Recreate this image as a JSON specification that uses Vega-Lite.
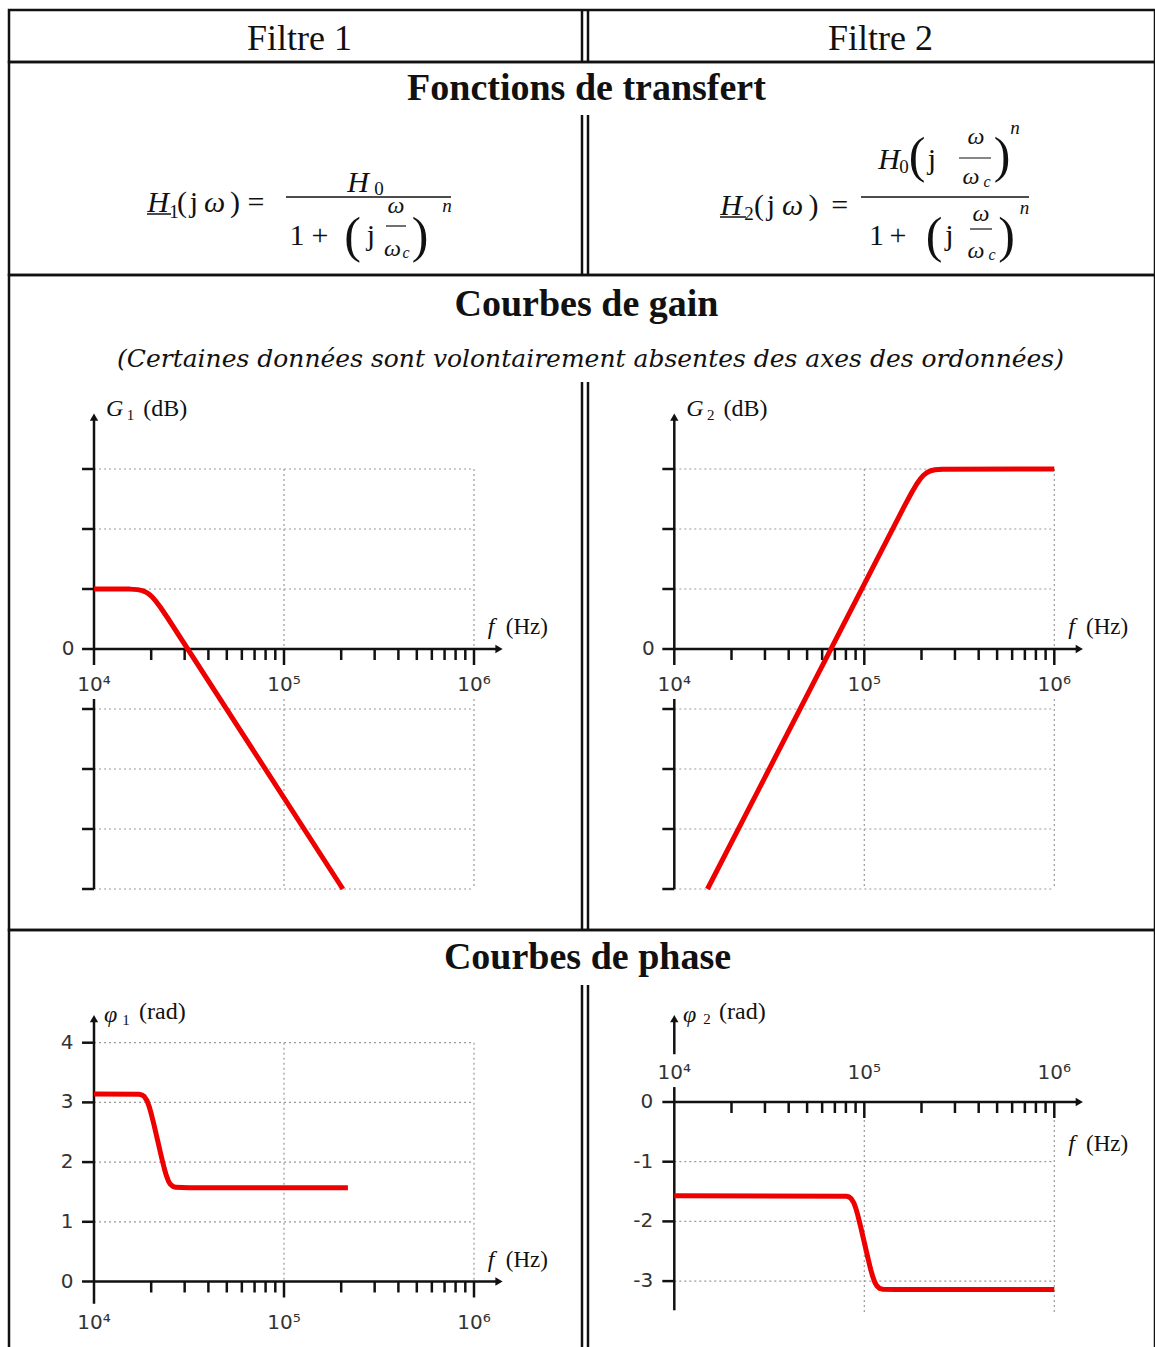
{
  "$schema": "https://vega.github.io/schema/vega-lite/v6.json",
  "background": "white",
  "padding": {"left": 7, "top": 7, "right": 0, "bottom": 0},
  "spacing": 0,
  "bounds": "flush",
  "config": {
    "view": {"stroke": "#111", "strokeWidth": 2.5},
    "axis": {"disable": true}
  },
  "datasets": {
    "gain1": [
      {"f": 10000, "G": 20},
      {"f": 15470, "G": 19.96},
      {"f": 16963, "G": 19.79},
      {"f": 17968, "G": 19.46},
      {"f": 18816, "G": 18.93},
      {"f": 19478, "G": 18.3},
      {"f": 20163, "G": 17.46},
      {"f": 21112, "G": 16.03},
      {"f": 22363, "G": 13.91},
      {"f": 24520, "G": 10.16},
      {"f": 204170, "G": -80}
    ],
    "gain2": [
      {"f": 14950, "G": -80},
      {"f": 162550, "G": 47.62},
      {"f": 178240, "G": 52.34},
      {"f": 188800, "G": 55.0},
      {"f": 197700, "G": 56.8},
      {"f": 204640, "G": 57.86},
      {"f": 211830, "G": 58.65},
      {"f": 221820, "G": 59.32},
      {"f": 234960, "G": 59.74},
      {"f": 257630, "G": 59.94},
      {"f": 1000000, "G": 60}
    ],
    "phase1": [
      {"f": 10000, "phi": 3.1416},
      {"f": 17378, "phi": 3.135},
      {"f": 17989, "phi": 3.121},
      {"f": 18408, "phi": 3.097},
      {"f": 19033, "phi": 3.025},
      {"f": 19498, "phi": 2.935},
      {"f": 19953, "phi": 2.825},
      {"f": 20654, "phi": 2.634},
      {"f": 21627, "phi": 2.361},
      {"f": 22646, "phi": 2.086},
      {"f": 23442, "phi": 1.893},
      {"f": 23988, "phi": 1.782},
      {"f": 24604, "phi": 1.688},
      {"f": 25119, "phi": 1.636},
      {"f": 26002, "phi": 1.592},
      {"f": 26915, "phi": 1.577},
      {"f": 31623, "phi": 1.5708},
      {"f": 217000, "phi": 1.5708}
    ],
    "phase2": [
      {"f": 10000, "phi": -1.5708},
      {"f": 80353, "phi": -1.5774},
      {"f": 83176, "phi": -1.5914},
      {"f": 85114, "phi": -1.6154},
      {"f": 88000, "phi": -1.6874},
      {"f": 90157, "phi": -1.7774},
      {"f": 92257, "phi": -1.8874},
      {"f": 95499, "phi": -2.0784},
      {"f": 100000, "phi": -2.3514},
      {"f": 104713, "phi": -2.6269},
      {"f": 108393, "phi": -2.8194},
      {"f": 110917, "phi": -2.9304},
      {"f": 113763, "phi": -3.0244},
      {"f": 116145, "phi": -3.0764},
      {"f": 120226, "phi": -3.1204},
      {"f": 124451, "phi": -3.1354},
      {"f": 146218, "phi": -3.1416},
      {"f": 1000000, "phi": -3.1416}
    ],
    "minorTicks": [
      {"f": 20000}, {"f": 30000}, {"f": 40000}, {"f": 50000}, {"f": 60000}, {"f": 70000}, {"f": 80000}, {"f": 90000},
      {"f": 200000}, {"f": 300000}, {"f": 400000}, {"f": 500000}, {"f": 600000}, {"f": 700000}, {"f": 800000}, {"f": 900000}
    ],
    "decades": [{"f": 100000}, {"f": 1000000}],
    "decadeLabels": [
      {"f": 10000, "label": "10⁴"},
      {"f": 100000, "label": "10⁵"},
      {"f": 1000000, "label": "10⁶"}
    ],
    "gainGrid": [{"G": 60}, {"G": 40}, {"G": 20}, {"G": -20}, {"G": -40}, {"G": -60}, {"G": -80}],
    "gainTicks": [{"G": 60}, {"G": 40}, {"G": 20}, {"G": 0}, {"G": -20}, {"G": -40}, {"G": -60}, {"G": -80}],
    "phase1Grid": [{"phi": 1}, {"phi": 2}, {"phi": 3}, {"phi": 4}],
    "phase1Ticks": [
      {"phi": 0, "label": "0"}, {"phi": 1, "label": "1"}, {"phi": 2, "label": "2"}, {"phi": 3, "label": "3"}, {"phi": 4, "label": "4"}
    ],
    "phase2Grid": [{"phi": -1}, {"phi": -2}, {"phi": -3}],
    "phase2Ticks": [
      {"phi": 0, "label": "0"}, {"phi": -1, "label": "-1"}, {"phi": -2, "label": "-2"}, {"phi": -3, "label": "-3"}
    ]
  },
  "vconcat": [
    {
      "width": 1146,
      "height": 52,
      "data": {"values": [{}]},
      "encoding": {
        "x": {"type": "quantitative", "scale": {"domain": [0, 1], "nice": false, "zero": false}},
        "y": {"type": "quantitative", "scale": {"domain": [0, 1], "nice": false, "zero": false, "reverse": true}}
      },
      "layer": [
        {"mark": {"type": "text", "text": "Filtre 1", "font": "Liberation Serif", "fontSize": 36, "align": "center", "baseline": "alphabetic", "color": "#111"},
         "encoding": {"x": {"datum": 0.2535, "type": "quantitative"}, "y": {"datum": 0.7788, "type": "quantitative"}}},
        {"mark": {"type": "text", "text": "Filtre 2", "font": "Liberation Serif", "fontSize": 36, "align": "center", "baseline": "alphabetic", "color": "#111"},
         "encoding": {"x": {"datum": 0.7605, "type": "quantitative"}, "y": {"datum": 0.7788, "type": "quantitative"}}},
        {"mark": {"type": "rule", "color": "#111", "strokeWidth": 2.5},
         "encoding": {"x": {"datum": 0.5, "type": "quantitative"}, "y": {"datum": 0, "type": "quantitative"}, "y2": {"datum": 1}}},
        {"mark": {"type": "rule", "color": "#111", "strokeWidth": 2.5},
         "encoding": {"x": {"datum": 0.50524, "type": "quantitative"}, "y": {"datum": 0, "type": "quantitative"}, "y2": {"datum": 1}}}
      ]
    },
    {
      "width": 1146,
      "height": 213,
      "data": {"values": [{}]},
      "encoding": {
        "x": {"type": "quantitative", "scale": {"domain": [0, 1], "nice": false, "zero": false}},
        "y": {"type": "quantitative", "scale": {"domain": [0, 1], "nice": false, "zero": false, "reverse": true}}
      },
      "layer": [
        {"mark": {"type": "text", "text": "Fonctions de transfert", "font": "Liberation Serif", "fontWeight": "bold", "fontSize": 38, "align": "center", "baseline": "alphabetic", "color": "#111"},
         "encoding": {"x": {"datum": 0.5039, "type": "quantitative"}, "y": {"datum": 0.1784, "type": "quantitative"}}},
        {"mark": {"type": "rule", "color": "#111", "strokeWidth": 2.5},
         "encoding": {"x": {"datum": 0.5, "type": "quantitative"}, "y": {"datum": 0.2488, "type": "quantitative"}, "y2": {"datum": 1}}},
        {"mark": {"type": "rule", "color": "#111", "strokeWidth": 2.5},
         "encoding": {"x": {"datum": 0.50524, "type": "quantitative"}, "y": {"datum": 0.2488, "type": "quantitative"}, "y2": {"datum": 1}}},

        {"mark": {"type": "text", "text": "H", "font": "Liberation Serif", "fontStyle": "italic", "fontSize": 30, "align": "center", "baseline": "middle", "color": "#111"},
         "encoding": {"x": {"datum": 0.13002, "type": "quantitative"}, "y": {"datum": 0.66197, "type": "quantitative"}}},
        {"mark": {"type": "text", "text": "1", "font": "Liberation Serif", "fontSize": 19, "align": "center", "baseline": "middle", "color": "#111"},
         "encoding": {"x": {"datum": 0.14398, "type": "quantitative"}, "y": {"datum": 0.70188, "type": "quantitative"}}},
        {"mark": {"type": "text", "text": "(", "font": "Liberation Serif", "fontSize": 30, "align": "center", "baseline": "middle", "color": "#111"},
         "encoding": {"x": {"datum": 0.15096, "type": "quantitative"}, "y": {"datum": 0.66197, "type": "quantitative"}}},
        {"mark": {"type": "text", "text": "j", "font": "Liberation Serif", "fontSize": 30, "align": "center", "baseline": "middle", "color": "#111"},
         "encoding": {"x": {"datum": 0.16143, "type": "quantitative"}, "y": {"datum": 0.66197, "type": "quantitative"}}},
        {"mark": {"type": "text", "text": "ω", "font": "Liberation Serif", "fontStyle": "italic", "fontSize": 30, "align": "center", "baseline": "middle", "color": "#111"},
         "encoding": {"x": {"datum": 0.17941, "type": "quantitative"}, "y": {"datum": 0.66197, "type": "quantitative"}}},
        {"mark": {"type": "text", "text": ")", "font": "Liberation Serif", "fontSize": 30, "align": "center", "baseline": "middle", "color": "#111"},
         "encoding": {"x": {"datum": 0.19721, "type": "quantitative"}, "y": {"datum": 0.66197, "type": "quantitative"}}},
        {"mark": {"type": "text", "text": "=", "font": "Liberation Serif", "fontSize": 30, "align": "center", "baseline": "middle", "color": "#111"},
         "encoding": {"x": {"datum": 0.21553, "type": "quantitative"}, "y": {"datum": 0.66197, "type": "quantitative"}}},
        {"mark": {"type": "rule", "color": "#111", "strokeWidth": 1.5},
         "encoding": {"x": {"datum": 0.12042, "type": "quantitative"}, "x2": {"datum": 0.14136}, "y": {"datum": 0.71362, "type": "quantitative"}}},
        {"mark": {"type": "rule", "color": "#111", "strokeWidth": 1.5},
         "encoding": {"x": {"datum": 0.24171, "type": "quantitative"}, "x2": {"datum": 0.38569}, "y": {"datum": 0.6338, "type": "quantitative"}}},
        {"mark": {"type": "text", "text": "H", "font": "Liberation Serif", "fontStyle": "italic", "fontSize": 30, "align": "center", "baseline": "middle", "color": "#111"},
         "encoding": {"x": {"datum": 0.30454, "type": "quantitative"}, "y": {"datum": 0.56808, "type": "quantitative"}}},
        {"mark": {"type": "text", "text": "0", "font": "Liberation Serif", "fontSize": 19, "align": "center", "baseline": "middle", "color": "#111"},
         "encoding": {"x": {"datum": 0.32286, "type": "quantitative"}, "y": {"datum": 0.59624, "type": "quantitative"}}},
        {"mark": {"type": "text", "text": "1", "font": "Liberation Serif", "fontSize": 30, "align": "center", "baseline": "middle", "color": "#111"},
         "encoding": {"x": {"datum": 0.25131, "type": "quantitative"}, "y": {"datum": 0.8169, "type": "quantitative"}}},
        {"mark": {"type": "text", "text": "+", "font": "Liberation Serif", "fontSize": 30, "align": "center", "baseline": "middle", "color": "#111"},
         "encoding": {"x": {"datum": 0.27138, "type": "quantitative"}, "y": {"datum": 0.8169, "type": "quantitative"}}},
        {"mark": {"type": "text", "text": "(", "font": "Liberation Serif", "fontSize": 50, "align": "center", "baseline": "middle", "color": "#111"},
         "encoding": {"x": {"datum": 0.29974, "type": "quantitative"}, "y": {"datum": 0.82042, "type": "quantitative"}}},
        {"mark": {"type": "text", "text": "j", "font": "Liberation Serif", "fontSize": 30, "align": "center", "baseline": "middle", "color": "#111"},
         "encoding": {"x": {"datum": 0.31588, "type": "quantitative"}, "y": {"datum": 0.8169, "type": "quantitative"}}},
        {"mark": {"type": "text", "text": "ω", "font": "Liberation Serif", "fontStyle": "italic", "fontSize": 24, "align": "center", "baseline": "middle", "color": "#111"},
         "encoding": {"x": {"datum": 0.3377, "type": "quantitative"}, "y": {"datum": 0.67371, "type": "quantitative"}}},
        {"mark": {"type": "rule", "color": "#111", "strokeWidth": 1.2},
         "encoding": {"x": {"datum": 0.32897, "type": "quantitative"}, "x2": {"datum": 0.34642}, "y": {"datum": 0.76995, "type": "quantitative"}}},
        {"mark": {"type": "text", "text": "ω", "font": "Liberation Serif", "fontStyle": "italic", "fontSize": 24, "align": "center", "baseline": "middle", "color": "#111"},
         "encoding": {"x": {"datum": 0.33464, "type": "quantitative"}, "y": {"datum": 0.87559, "type": "quantitative"}}},
        {"mark": {"type": "text", "text": "c", "font": "Liberation Serif", "fontStyle": "italic", "fontSize": 16, "align": "center", "baseline": "middle", "color": "#111"},
         "encoding": {"x": {"datum": 0.34642, "type": "quantitative"}, "y": {"datum": 0.89671, "type": "quantitative"}}},
        {"mark": {"type": "text", "text": ")", "font": "Liberation Serif", "fontSize": 50, "align": "center", "baseline": "middle", "color": "#111"},
         "encoding": {"x": {"datum": 0.35864, "type": "quantitative"}, "y": {"datum": 0.82042, "type": "quantitative"}}},
        {"mark": {"type": "text", "text": "n", "font": "Liberation Serif", "fontStyle": "italic", "fontSize": 19, "align": "center", "baseline": "middle", "color": "#111"},
         "encoding": {"x": {"datum": 0.3822, "type": "quantitative"}, "y": {"datum": 0.67606, "type": "quantitative"}}},

        {"mark": {"type": "text", "text": "H", "font": "Liberation Serif", "fontStyle": "italic", "fontSize": 30, "align": "center", "baseline": "middle", "color": "#111"},
         "encoding": {"x": {"datum": 0.63002, "type": "quantitative"}, "y": {"datum": 0.67606, "type": "quantitative"}}},
        {"mark": {"type": "text", "text": "2", "font": "Liberation Serif", "fontSize": 19, "align": "center", "baseline": "middle", "color": "#111"},
         "encoding": {"x": {"datum": 0.64572, "type": "quantitative"}, "y": {"datum": 0.71362, "type": "quantitative"}}},
        {"mark": {"type": "text", "text": "(", "font": "Liberation Serif", "fontSize": 30, "align": "center", "baseline": "middle", "color": "#111"},
         "encoding": {"x": {"datum": 0.65445, "type": "quantitative"}, "y": {"datum": 0.67606, "type": "quantitative"}}},
        {"mark": {"type": "text", "text": "j", "font": "Liberation Serif", "fontSize": 30, "align": "center", "baseline": "middle", "color": "#111"},
         "encoding": {"x": {"datum": 0.66492, "type": "quantitative"}, "y": {"datum": 0.67606, "type": "quantitative"}}},
        {"mark": {"type": "text", "text": "ω", "font": "Liberation Serif", "fontStyle": "italic", "fontSize": 30, "align": "center", "baseline": "middle", "color": "#111"},
         "encoding": {"x": {"datum": 0.68368, "type": "quantitative"}, "y": {"datum": 0.67606, "type": "quantitative"}}},
        {"mark": {"type": "text", "text": ")", "font": "Liberation Serif", "fontSize": 30, "align": "center", "baseline": "middle", "color": "#111"},
         "encoding": {"x": {"datum": 0.70201, "type": "quantitative"}, "y": {"datum": 0.67606, "type": "quantitative"}}},
        {"mark": {"type": "text", "text": "=", "font": "Liberation Serif", "fontSize": 30, "align": "center", "baseline": "middle", "color": "#111"},
         "encoding": {"x": {"datum": 0.72478, "type": "quantitative"}, "y": {"datum": 0.67606, "type": "quantitative"}}},
        {"mark": {"type": "rule", "color": "#111", "strokeWidth": 1.5},
         "encoding": {"x": {"datum": 0.62042, "type": "quantitative"}, "x2": {"datum": 0.64311}, "y": {"datum": 0.7277, "type": "quantitative"}}},
        {"mark": {"type": "rule", "color": "#111", "strokeWidth": 1.5},
         "encoding": {"x": {"datum": 0.74346, "type": "quantitative"}, "x2": {"datum": 0.89005}, "y": {"datum": 0.6338, "type": "quantitative"}}},
        {"mark": {"type": "text", "text": "H", "font": "Liberation Serif", "fontStyle": "italic", "fontSize": 30, "align": "center", "baseline": "middle", "color": "#111"},
         "encoding": {"x": {"datum": 0.76789, "type": "quantitative"}, "y": {"datum": 0.46009, "type": "quantitative"}}},
        {"mark": {"type": "text", "text": "0", "font": "Liberation Serif", "fontSize": 19, "align": "center", "baseline": "middle", "color": "#111"},
         "encoding": {"x": {"datum": 0.78098, "type": "quantitative"}, "y": {"datum": 0.49296, "type": "quantitative"}}},
        {"mark": {"type": "text", "text": "(", "font": "Liberation Serif", "fontSize": 50, "align": "center", "baseline": "middle", "color": "#111"},
         "encoding": {"x": {"datum": 0.79232, "type": "quantitative"}, "y": {"datum": 0.44484, "type": "quantitative"}}},
        {"mark": {"type": "text", "text": "j", "font": "Liberation Serif", "fontSize": 30, "align": "center", "baseline": "middle", "color": "#111"},
         "encoding": {"x": {"datum": 0.80541, "type": "quantitative"}, "y": {"datum": 0.46009, "type": "quantitative"}}},
        {"mark": {"type": "text", "text": "ω", "font": "Liberation Serif", "fontStyle": "italic", "fontSize": 24, "align": "center", "baseline": "middle", "color": "#111"},
         "encoding": {"x": {"datum": 0.8438, "type": "quantitative"}, "y": {"datum": 0.35446, "type": "quantitative"}}},
        {"mark": {"type": "rule", "color": "#111", "strokeWidth": 1.2},
         "encoding": {"x": {"datum": 0.82897, "type": "quantitative"}, "x2": {"datum": 0.85689}, "y": {"datum": 0.4507, "type": "quantitative"}}},
        {"mark": {"type": "text", "text": "ω", "font": "Liberation Serif", "fontStyle": "italic", "fontSize": 24, "align": "center", "baseline": "middle", "color": "#111"},
         "encoding": {"x": {"datum": 0.83944, "type": "quantitative"}, "y": {"datum": 0.54225, "type": "quantitative"}}},
        {"mark": {"type": "text", "text": "c", "font": "Liberation Serif", "fontStyle": "italic", "fontSize": 16, "align": "center", "baseline": "middle", "color": "#111"},
         "encoding": {"x": {"datum": 0.8534, "type": "quantitative"}, "y": {"datum": 0.56338, "type": "quantitative"}}},
        {"mark": {"type": "text", "text": ")", "font": "Liberation Serif", "fontSize": 50, "align": "center", "baseline": "middle", "color": "#111"},
         "encoding": {"x": {"datum": 0.86649, "type": "quantitative"}, "y": {"datum": 0.44484, "type": "quantitative"}}},
        {"mark": {"type": "text", "text": "n", "font": "Liberation Serif", "fontStyle": "italic", "fontSize": 19, "align": "center", "baseline": "middle", "color": "#111"},
         "encoding": {"x": {"datum": 0.87784, "type": "quantitative"}, "y": {"datum": 0.30845, "type": "quantitative"}}},
        {"mark": {"type": "text", "text": "1", "font": "Liberation Serif", "fontSize": 30, "align": "center", "baseline": "middle", "color": "#111"},
         "encoding": {"x": {"datum": 0.75698, "type": "quantitative"}, "y": {"datum": 0.8169, "type": "quantitative"}}},
        {"mark": {"type": "text", "text": "+", "font": "Liberation Serif", "fontSize": 30, "align": "center", "baseline": "middle", "color": "#111"},
         "encoding": {"x": {"datum": 0.77574, "type": "quantitative"}, "y": {"datum": 0.8169, "type": "quantitative"}}},
        {"mark": {"type": "text", "text": "(", "font": "Liberation Serif", "fontSize": 50, "align": "center", "baseline": "middle", "color": "#111"},
         "encoding": {"x": {"datum": 0.80716, "type": "quantitative"}, "y": {"datum": 0.82042, "type": "quantitative"}}},
        {"mark": {"type": "text", "text": "j", "font": "Liberation Serif", "fontSize": 30, "align": "center", "baseline": "middle", "color": "#111"},
         "encoding": {"x": {"datum": 0.82068, "type": "quantitative"}, "y": {"datum": 0.8169, "type": "quantitative"}}},
        {"mark": {"type": "text", "text": "ω", "font": "Liberation Serif", "fontStyle": "italic", "fontSize": 24, "align": "center", "baseline": "middle", "color": "#111"},
         "encoding": {"x": {"datum": 0.84817, "type": "quantitative"}, "y": {"datum": 0.71127, "type": "quantitative"}}},
        {"mark": {"type": "rule", "color": "#111", "strokeWidth": 1.2},
         "encoding": {"x": {"datum": 0.83857, "type": "quantitative"}, "x2": {"datum": 0.85777}, "y": {"datum": 0.78404, "type": "quantitative"}}},
        {"mark": {"type": "text", "text": "ω", "font": "Liberation Serif", "fontStyle": "italic", "fontSize": 24, "align": "center", "baseline": "middle", "color": "#111"},
         "encoding": {"x": {"datum": 0.8438, "type": "quantitative"}, "y": {"datum": 0.88498, "type": "quantitative"}}},
        {"mark": {"type": "text", "text": "c", "font": "Liberation Serif", "fontStyle": "italic", "fontSize": 16, "align": "center", "baseline": "middle", "color": "#111"},
         "encoding": {"x": {"datum": 0.85776, "type": "quantitative"}, "y": {"datum": 0.9061, "type": "quantitative"}}},
        {"mark": {"type": "text", "text": ")", "font": "Liberation Serif", "fontSize": 50, "align": "center", "baseline": "middle", "color": "#111"},
         "encoding": {"x": {"datum": 0.87042, "type": "quantitative"}, "y": {"datum": 0.82042, "type": "quantitative"}}},
        {"mark": {"type": "text", "text": "n", "font": "Liberation Serif", "fontStyle": "italic", "fontSize": 19, "align": "center", "baseline": "middle", "color": "#111"},
         "encoding": {"x": {"datum": 0.88613, "type": "quantitative"}, "y": {"datum": 0.68545, "type": "quantitative"}}}
      ]
    },
    {
      "width": 1146,
      "height": 655,
      "data": {"values": [{}]},
      "resolve": {"scale": {"x": "independent", "y": "independent"}},
      "layer": [
        {
          "encoding": {
            "x": {"type": "quantitative", "scale": {"domain": [0, 1], "nice": false, "zero": false}},
            "y": {"type": "quantitative", "scale": {"domain": [0, 1], "nice": false, "zero": false, "reverse": true}}
          },
          "layer": [
            {"mark": {"type": "text", "text": "Courbes de gain", "font": "Liberation Serif", "fontWeight": "bold", "fontSize": 38, "align": "center", "baseline": "alphabetic", "color": "#111"},
             "encoding": {"x": {"datum": 0.5039, "type": "quantitative"}, "y": {"datum": 0.0626, "type": "quantitative"}}},
            {"mark": {"type": "text", "text": "(Certaines données sont volontairement absentes des axes des ordonnées)", "font": "DejaVu Serif", "fontStyle": "italic", "fontSize": 25, "align": "center", "baseline": "alphabetic", "color": "#111"},
             "encoding": {"x": {"datum": 0.5074, "type": "quantitative"}, "y": {"datum": 0.1405, "type": "quantitative"}}},
            {"mark": {"type": "rule", "color": "#111", "strokeWidth": 2.5},
             "encoding": {"x": {"datum": 0.5, "type": "quantitative"}, "y": {"datum": 0.1634, "type": "quantitative"}, "y2": {"datum": 1}}},
            {"mark": {"type": "rule", "color": "#111", "strokeWidth": 2.5},
             "encoding": {"x": {"datum": 0.50524, "type": "quantitative"}, "y": {"datum": 0.1634, "type": "quantitative"}, "y2": {"datum": 1}}}
          ]
        },
        {
          "encoding": {
            "x": {"type": "quantitative", "scale": {"type": "log", "domain": [3569.7, 3838900000], "nice": false}},
            "y": {"type": "quantitative", "scale": {"domain": [-93.667, 124.667], "nice": false, "zero": false}}
          },
          "layer": [
            {"data": {"name": "gainGrid"}, "mark": {"type": "rule", "color": "#9a9a9a", "strokeWidth": 1.2, "strokeDash": [2, 3]},
             "encoding": {"x": {"datum": 10000, "type": "quantitative"}, "x2": {"datum": 1000000}, "y": {"field": "G", "type": "quantitative"}}},
            {"data": {"name": "decades"}, "mark": {"type": "rule", "color": "#9a9a9a", "strokeWidth": 1.2, "strokeDash": [2, 3]},
             "encoding": {"x": {"field": "f", "type": "quantitative"}, "y": {"datum": 60, "type": "quantitative"}, "y2": {"datum": 0}}},
            {"data": {"name": "decades"}, "mark": {"type": "rule", "color": "#9a9a9a", "strokeWidth": 1.2, "strokeDash": [2, 3]},
             "encoding": {"x": {"field": "f", "type": "quantitative"}, "y": {"datum": -16.67, "type": "quantitative"}, "y2": {"datum": -80}}},
            {"data": {"name": "gainTicks"}, "mark": {"type": "rule", "color": "#111", "strokeWidth": 2.5},
             "encoding": {"x": {"datum": 8650, "type": "quantitative"}, "x2": {"datum": 10000}, "y": {"field": "G", "type": "quantitative"}}},
            {"mark": {"type": "rule", "color": "#111", "strokeWidth": 2.5},
             "encoding": {"x": {"datum": 10000, "type": "quantitative"}, "y": {"datum": 77.33, "type": "quantitative"}, "y2": {"datum": -5.33}}},
            {"mark": {"type": "rule", "color": "#111", "strokeWidth": 2.5},
             "encoding": {"x": {"datum": 10000, "type": "quantitative"}, "y": {"datum": -16.67, "type": "quantitative"}, "y2": {"datum": -80}}},
            {"mark": {"type": "rule", "color": "#111", "strokeWidth": 2.5},
             "encoding": {"x": {"datum": 10000, "type": "quantitative"}, "x2": {"datum": 1354000}, "y": {"datum": 0, "type": "quantitative"}}},
            {"data": {"name": "minorTicks"}, "mark": {"type": "rule", "color": "#111", "strokeWidth": 2.5},
             "encoding": {"x": {"field": "f", "type": "quantitative"}, "y": {"datum": 0, "type": "quantitative"}, "y2": {"datum": -3.67}}},
            {"data": {"name": "decades"}, "mark": {"type": "rule", "color": "#111", "strokeWidth": 2.5},
             "encoding": {"x": {"field": "f", "type": "quantitative"}, "y": {"datum": 0, "type": "quantitative"}, "y2": {"datum": -5.33}}},
            {"mark": {"type": "point", "shape": "triangle-up", "filled": true, "size": 70, "color": "#111", "opacity": 1},
             "encoding": {"x": {"datum": 10000, "type": "quantitative"}, "y": {"datum": 77.33, "type": "quantitative"}}},
            {"mark": {"type": "point", "shape": "triangle-right", "filled": true, "size": 70, "color": "#111", "opacity": 1},
             "encoding": {"x": {"datum": 1354000, "type": "quantitative"}, "y": {"datum": 0, "type": "quantitative"}}},
            {"data": {"name": "decadeLabels"}, "mark": {"type": "text", "font": "DejaVu Sans", "fontSize": 20, "align": "center", "baseline": "middle", "color": "#333"},
             "encoding": {"x": {"field": "f", "type": "quantitative"}, "y": {"datum": -12, "type": "quantitative"}, "text": {"field": "label", "type": "nominal"}}},
            {"mark": {"type": "text", "text": "0", "font": "DejaVu Sans", "fontSize": 20, "align": "right", "baseline": "middle", "color": "#333"},
             "encoding": {"x": {"datum": 7900, "type": "quantitative"}, "y": {"datum": 0, "type": "quantitative"}}},
            {"mark": {"type": "text", "text": "G", "font": "Liberation Serif", "fontStyle": "italic", "fontSize": 24, "align": "left", "baseline": "middle", "color": "#111"},
             "encoding": {"x": {"datum": 11550, "type": "quantitative"}, "y": {"datum": 80, "type": "quantitative"}}},
            {"mark": {"type": "text", "text": "1", "font": "Liberation Serif", "fontSize": 15, "align": "center", "baseline": "middle", "color": "#111"},
             "encoding": {"x": {"datum": 15540, "type": "quantitative"}, "y": {"datum": 78, "type": "quantitative"}}},
            {"mark": {"type": "text", "text": "(dB)", "font": "Liberation Serif", "fontSize": 24, "align": "left", "baseline": "middle", "color": "#111"},
             "encoding": {"x": {"datum": 18150, "type": "quantitative"}, "y": {"datum": 80, "type": "quantitative"}}},
            {"mark": {"type": "text", "text": "f", "font": "Liberation Serif", "fontStyle": "italic", "fontSize": 24, "align": "left", "baseline": "middle", "color": "#111"},
             "encoding": {"x": {"datum": 1183000, "type": "quantitative"}, "y": {"datum": 7.33, "type": "quantitative"}}},
            {"mark": {"type": "text", "text": "(Hz)", "font": "Liberation Serif", "fontSize": 23, "align": "left", "baseline": "middle", "color": "#111"},
             "encoding": {"x": {"datum": 1470000, "type": "quantitative"}, "y": {"datum": 7.33, "type": "quantitative"}}},
            {"data": {"name": "gain1"}, "mark": {"type": "line", "color": "#ee0000", "strokeWidth": 5, "strokeJoin": "round"},
             "encoding": {"x": {"field": "f", "type": "quantitative"}, "y": {"field": "G", "type": "quantitative"}}}
          ]
        },
        {
          "encoding": {
            "x": {"type": "quantitative", "scale": {"type": "log", "domain": [3.1508, 3388400], "nice": false}},
            "y": {"type": "quantitative", "scale": {"domain": [-93.667, 124.667], "nice": false, "zero": false}}
          },
          "layer": [
            {"data": {"name": "gainGrid"}, "mark": {"type": "rule", "color": "#9a9a9a", "strokeWidth": 1.2, "strokeDash": [2, 3]},
             "encoding": {"x": {"datum": 10000, "type": "quantitative"}, "x2": {"datum": 1000000}, "y": {"field": "G", "type": "quantitative"}}},
            {"data": {"name": "decades"}, "mark": {"type": "rule", "color": "#9a9a9a", "strokeWidth": 1.2, "strokeDash": [2, 3]},
             "encoding": {"x": {"field": "f", "type": "quantitative"}, "y": {"datum": 60, "type": "quantitative"}, "y2": {"datum": 0}}},
            {"data": {"name": "decades"}, "mark": {"type": "rule", "color": "#9a9a9a", "strokeWidth": 1.2, "strokeDash": [2, 3]},
             "encoding": {"x": {"field": "f", "type": "quantitative"}, "y": {"datum": -16.67, "type": "quantitative"}, "y2": {"datum": -80}}},
            {"data": {"name": "gainTicks"}, "mark": {"type": "rule", "color": "#111", "strokeWidth": 2.5},
             "encoding": {"x": {"datum": 8650, "type": "quantitative"}, "x2": {"datum": 10000}, "y": {"field": "G", "type": "quantitative"}}},
            {"mark": {"type": "rule", "color": "#111", "strokeWidth": 2.5},
             "encoding": {"x": {"datum": 10000, "type": "quantitative"}, "y": {"datum": 77.33, "type": "quantitative"}, "y2": {"datum": -5.33}}},
            {"mark": {"type": "rule", "color": "#111", "strokeWidth": 2.5},
             "encoding": {"x": {"datum": 10000, "type": "quantitative"}, "y": {"datum": -16.67, "type": "quantitative"}, "y2": {"datum": -80}}},
            {"mark": {"type": "rule", "color": "#111", "strokeWidth": 2.5},
             "encoding": {"x": {"datum": 10000, "type": "quantitative"}, "x2": {"datum": 1354000}, "y": {"datum": 0, "type": "quantitative"}}},
            {"data": {"name": "minorTicks"}, "mark": {"type": "rule", "color": "#111", "strokeWidth": 2.5},
             "encoding": {"x": {"field": "f", "type": "quantitative"}, "y": {"datum": 0, "type": "quantitative"}, "y2": {"datum": -3.67}}},
            {"data": {"name": "decades"}, "mark": {"type": "rule", "color": "#111", "strokeWidth": 2.5},
             "encoding": {"x": {"field": "f", "type": "quantitative"}, "y": {"datum": 0, "type": "quantitative"}, "y2": {"datum": -5.33}}},
            {"mark": {"type": "point", "shape": "triangle-up", "filled": true, "size": 70, "color": "#111", "opacity": 1},
             "encoding": {"x": {"datum": 10000, "type": "quantitative"}, "y": {"datum": 77.33, "type": "quantitative"}}},
            {"mark": {"type": "point", "shape": "triangle-right", "filled": true, "size": 70, "color": "#111", "opacity": 1},
             "encoding": {"x": {"datum": 1354000, "type": "quantitative"}, "y": {"datum": 0, "type": "quantitative"}}},
            {"data": {"name": "decadeLabels"}, "mark": {"type": "text", "font": "DejaVu Sans", "fontSize": 20, "align": "center", "baseline": "middle", "color": "#333"},
             "encoding": {"x": {"field": "f", "type": "quantitative"}, "y": {"datum": -12, "type": "quantitative"}, "text": {"field": "label", "type": "nominal"}}},
            {"mark": {"type": "text", "text": "0", "font": "DejaVu Sans", "fontSize": 20, "align": "right", "baseline": "middle", "color": "#333"},
             "encoding": {"x": {"datum": 7900, "type": "quantitative"}, "y": {"datum": 0, "type": "quantitative"}}},
            {"mark": {"type": "text", "text": "G", "font": "Liberation Serif", "fontStyle": "italic", "fontSize": 24, "align": "left", "baseline": "middle", "color": "#111"},
             "encoding": {"x": {"datum": 11550, "type": "quantitative"}, "y": {"datum": 80, "type": "quantitative"}}},
            {"mark": {"type": "text", "text": "2", "font": "Liberation Serif", "fontSize": 15, "align": "center", "baseline": "middle", "color": "#111"},
             "encoding": {"x": {"datum": 15540, "type": "quantitative"}, "y": {"datum": 78, "type": "quantitative"}}},
            {"mark": {"type": "text", "text": "(dB)", "font": "Liberation Serif", "fontSize": 24, "align": "left", "baseline": "middle", "color": "#111"},
             "encoding": {"x": {"datum": 18150, "type": "quantitative"}, "y": {"datum": 80, "type": "quantitative"}}},
            {"mark": {"type": "text", "text": "f", "font": "Liberation Serif", "fontStyle": "italic", "fontSize": 24, "align": "left", "baseline": "middle", "color": "#111"},
             "encoding": {"x": {"datum": 1183000, "type": "quantitative"}, "y": {"datum": 7.33, "type": "quantitative"}}},
            {"mark": {"type": "text", "text": "(Hz)", "font": "Liberation Serif", "fontSize": 23, "align": "left", "baseline": "middle", "color": "#111"},
             "encoding": {"x": {"datum": 1470000, "type": "quantitative"}, "y": {"datum": 7.33, "type": "quantitative"}}},
            {"data": {"name": "gain2"}, "mark": {"type": "line", "color": "#ee0000", "strokeWidth": 5, "strokeJoin": "round"},
             "encoding": {"x": {"field": "f", "type": "quantitative"}, "y": {"field": "G", "type": "quantitative"}}}
          ]
        }
      ]
    },
    {
      "width": 1146,
      "height": 420,
      "data": {"values": [{}]},
      "resolve": {"scale": {"x": "independent", "y": "independent"}},
      "layer": [
        {
          "encoding": {
            "x": {"type": "quantitative", "scale": {"domain": [0, 1], "nice": false, "zero": false}},
            "y": {"type": "quantitative", "scale": {"domain": [0, 1], "nice": false, "zero": false, "reverse": true}}
          },
          "layer": [
            {"mark": {"type": "text", "text": "Courbes de phase", "font": "Liberation Serif", "fontWeight": "bold", "fontSize": 38, "align": "center", "baseline": "alphabetic", "color": "#111"},
             "encoding": {"x": {"datum": 0.5048, "type": "quantitative"}, "y": {"datum": 0.0929, "type": "quantitative"}}},
            {"mark": {"type": "rule", "color": "#111", "strokeWidth": 2.5},
             "encoding": {"x": {"datum": 0.5, "type": "quantitative"}, "y": {"datum": 0.131, "type": "quantitative"}, "y2": {"datum": 1}}},
            {"mark": {"type": "rule", "color": "#111", "strokeWidth": 2.5},
             "encoding": {"x": {"datum": 0.50524, "type": "quantitative"}, "y": {"datum": 0.131, "type": "quantitative"}, "y2": {"datum": 1}}}
          ]
        },
        {
          "encoding": {
            "x": {"type": "quantitative", "scale": {"type": "log", "domain": [3569.7, 3838900000], "nice": false}},
            "y": {"type": "quantitative", "scale": {"domain": [-1.1474, 5.8878], "nice": false, "zero": false}}
          },
          "layer": [
            {"data": {"name": "phase1Grid"}, "mark": {"type": "rule", "color": "#9a9a9a", "strokeWidth": 1.2, "strokeDash": [2, 3]},
             "encoding": {"x": {"datum": 10000, "type": "quantitative"}, "x2": {"datum": 1000000}, "y": {"field": "phi", "type": "quantitative"}}},
            {"data": {"name": "decades"}, "mark": {"type": "rule", "color": "#9a9a9a", "strokeWidth": 1.2, "strokeDash": [2, 3]},
             "encoding": {"x": {"field": "f", "type": "quantitative"}, "y": {"datum": 4, "type": "quantitative"}, "y2": {"datum": 0}}},
            {"data": {"name": "phase1Ticks"}, "mark": {"type": "rule", "color": "#111", "strokeWidth": 2.5},
             "encoding": {"x": {"datum": 8650, "type": "quantitative"}, "x2": {"datum": 10000}, "y": {"field": "phi", "type": "quantitative"}}},
            {"mark": {"type": "rule", "color": "#111", "strokeWidth": 2.5},
             "encoding": {"x": {"datum": 10000, "type": "quantitative"}, "y": {"datum": 4.402, "type": "quantitative"}, "y2": {"datum": -0.372}}},
            {"mark": {"type": "rule", "color": "#111", "strokeWidth": 2.5},
             "encoding": {"x": {"datum": 10000, "type": "quantitative"}, "x2": {"datum": 1354000}, "y": {"datum": 0, "type": "quantitative"}}},
            {"data": {"name": "minorTicks"}, "mark": {"type": "rule", "color": "#111", "strokeWidth": 2.5},
             "encoding": {"x": {"field": "f", "type": "quantitative"}, "y": {"datum": 0, "type": "quantitative"}, "y2": {"datum": -0.184}}},
            {"data": {"name": "decades"}, "mark": {"type": "rule", "color": "#111", "strokeWidth": 2.5},
             "encoding": {"x": {"field": "f", "type": "quantitative"}, "y": {"datum": 0, "type": "quantitative"}, "y2": {"datum": -0.268}}},
            {"mark": {"type": "point", "shape": "triangle-up", "filled": true, "size": 70, "color": "#111", "opacity": 1},
             "encoding": {"x": {"datum": 10000, "type": "quantitative"}, "y": {"datum": 4.402, "type": "quantitative"}}},
            {"mark": {"type": "point", "shape": "triangle-right", "filled": true, "size": 70, "color": "#111", "opacity": 1},
             "encoding": {"x": {"datum": 1354000, "type": "quantitative"}, "y": {"datum": 0, "type": "quantitative"}}},
            {"data": {"name": "decadeLabels"}, "mark": {"type": "text", "font": "DejaVu Sans", "fontSize": 20, "align": "center", "baseline": "middle", "color": "#333"},
             "encoding": {"x": {"field": "f", "type": "quantitative"}, "y": {"datum": -0.7, "type": "quantitative"}, "text": {"field": "label", "type": "nominal"}}},
            {"data": {"name": "phase1Ticks"}, "mark": {"type": "text", "font": "DejaVu Sans", "fontSize": 20, "align": "right", "baseline": "middle", "color": "#333"},
             "encoding": {"x": {"datum": 7800, "type": "quantitative"}, "y": {"field": "phi", "type": "quantitative"}, "text": {"field": "label", "type": "nominal"}}},
            {"mark": {"type": "text", "text": "φ", "font": "Liberation Serif", "fontStyle": "italic", "fontSize": 24, "align": "left", "baseline": "middle", "color": "#111"},
             "encoding": {"x": {"datum": 11290, "type": "quantitative"}, "y": {"datum": 4.464, "type": "quantitative"}}},
            {"mark": {"type": "text", "text": "1", "font": "Liberation Serif", "fontSize": 15, "align": "center", "baseline": "middle", "color": "#111"},
             "encoding": {"x": {"datum": 14740, "type": "quantitative"}, "y": {"datum": 4.38, "type": "quantitative"}}},
            {"mark": {"type": "text", "text": "(rad)", "font": "Liberation Serif", "fontSize": 24, "align": "left", "baseline": "middle", "color": "#111"},
             "encoding": {"x": {"datum": 17250, "type": "quantitative"}, "y": {"datum": 4.514, "type": "quantitative"}}},
            {"mark": {"type": "text", "text": "f", "font": "Liberation Serif", "fontStyle": "italic", "fontSize": 24, "align": "left", "baseline": "middle", "color": "#111"},
             "encoding": {"x": {"datum": 1183000, "type": "quantitative"}, "y": {"datum": 0.36, "type": "quantitative"}}},
            {"mark": {"type": "text", "text": "(Hz)", "font": "Liberation Serif", "fontSize": 23, "align": "left", "baseline": "middle", "color": "#111"},
             "encoding": {"x": {"datum": 1470000, "type": "quantitative"}, "y": {"datum": 0.36, "type": "quantitative"}}},
            {"data": {"name": "phase1"}, "mark": {"type": "line", "color": "#ee0000", "strokeWidth": 5, "strokeJoin": "round"},
             "encoding": {"x": {"field": "f", "type": "quantitative"}, "y": {"field": "phi", "type": "quantitative"}}}
          ]
        },
        {
          "encoding": {
            "x": {"type": "quantitative", "scale": {"type": "log", "domain": [3.1508, 3388400], "nice": false}},
            "y": {"type": "quantitative", "scale": {"domain": [-4.1541, 2.8811], "nice": false, "zero": false}}
          },
          "layer": [
            {"data": {"name": "phase2Grid"}, "mark": {"type": "rule", "color": "#9a9a9a", "strokeWidth": 1.2, "strokeDash": [2, 3]},
             "encoding": {"x": {"datum": 10000, "type": "quantitative"}, "x2": {"datum": 1000000}, "y": {"field": "phi", "type": "quantitative"}}},
            {"data": {"name": "decades"}, "mark": {"type": "rule", "color": "#9a9a9a", "strokeWidth": 1.2, "strokeDash": [2, 3]},
             "encoding": {"x": {"field": "f", "type": "quantitative"}, "y": {"datum": -0.3, "type": "quantitative"}, "y2": {"datum": -3.52}}},
            {"data": {"name": "phase2Ticks"}, "mark": {"type": "rule", "color": "#111", "strokeWidth": 2.5},
             "encoding": {"x": {"datum": 8650, "type": "quantitative"}, "x2": {"datum": 10000}, "y": {"field": "phi", "type": "quantitative"}}},
            {"mark": {"type": "rule", "color": "#111", "strokeWidth": 2.5},
             "encoding": {"x": {"datum": 10000, "type": "quantitative"}, "y": {"datum": 1.395, "type": "quantitative"}, "y2": {"datum": 0.8}}},
            {"mark": {"type": "rule", "color": "#111", "strokeWidth": 2.5},
             "encoding": {"x": {"datum": 10000, "type": "quantitative"}, "y": {"datum": 0.25, "type": "quantitative"}, "y2": {"datum": -3.489}}},
            {"mark": {"type": "rule", "color": "#111", "strokeWidth": 2.5},
             "encoding": {"x": {"datum": 10000, "type": "quantitative"}, "x2": {"datum": 1354000}, "y": {"datum": 0, "type": "quantitative"}}},
            {"data": {"name": "minorTicks"}, "mark": {"type": "rule", "color": "#111", "strokeWidth": 2.5},
             "encoding": {"x": {"field": "f", "type": "quantitative"}, "y": {"datum": 0, "type": "quantitative"}, "y2": {"datum": -0.184}}},
            {"data": {"name": "decades"}, "mark": {"type": "rule", "color": "#111", "strokeWidth": 2.5},
             "encoding": {"x": {"field": "f", "type": "quantitative"}, "y": {"datum": 0, "type": "quantitative"}, "y2": {"datum": -0.268}}},
            {"mark": {"type": "point", "shape": "triangle-up", "filled": true, "size": 70, "color": "#111", "opacity": 1},
             "encoding": {"x": {"datum": 10000, "type": "quantitative"}, "y": {"datum": 1.395, "type": "quantitative"}}},
            {"mark": {"type": "point", "shape": "triangle-right", "filled": true, "size": 70, "color": "#111", "opacity": 1},
             "encoding": {"x": {"datum": 1354000, "type": "quantitative"}, "y": {"datum": 0, "type": "quantitative"}}},
            {"data": {"name": "decadeLabels"}, "mark": {"type": "text", "font": "DejaVu Sans", "fontSize": 20, "align": "center", "baseline": "middle", "color": "#333"},
             "encoding": {"x": {"field": "f", "type": "quantitative"}, "y": {"datum": 0.481, "type": "quantitative"}, "text": {"field": "label", "type": "nominal"}}},
            {"data": {"name": "phase2Ticks"}, "mark": {"type": "text", "font": "DejaVu Sans", "fontSize": 20, "align": "right", "baseline": "middle", "color": "#333"},
             "encoding": {"x": {"datum": 7750, "type": "quantitative"}, "y": {"field": "phi", "type": "quantitative"}, "text": {"field": "label", "type": "nominal"}}},
            {"mark": {"type": "text", "text": "φ", "font": "Liberation Serif", "fontStyle": "italic", "fontSize": 24, "align": "left", "baseline": "middle", "color": "#111"},
             "encoding": {"x": {"datum": 11110, "type": "quantitative"}, "y": {"datum": 1.457, "type": "quantitative"}}},
            {"mark": {"type": "text", "text": "2", "font": "Liberation Serif", "fontSize": 15, "align": "center", "baseline": "middle", "color": "#111"},
             "encoding": {"x": {"datum": 14860, "type": "quantitative"}, "y": {"datum": 1.395, "type": "quantitative"}}},
            {"mark": {"type": "text", "text": "(rad)", "font": "Liberation Serif", "fontSize": 24, "align": "left", "baseline": "middle", "color": "#111"},
             "encoding": {"x": {"datum": 17190, "type": "quantitative"}, "y": {"datum": 1.508, "type": "quantitative"}}},
            {"mark": {"type": "text", "text": "f", "font": "Liberation Serif", "fontStyle": "italic", "fontSize": 24, "align": "left", "baseline": "middle", "color": "#111"},
             "encoding": {"x": {"datum": 1183000, "type": "quantitative"}, "y": {"datum": -0.698, "type": "quantitative"}}},
            {"mark": {"type": "text", "text": "(Hz)", "font": "Liberation Serif", "fontSize": 23, "align": "left", "baseline": "middle", "color": "#111"},
             "encoding": {"x": {"datum": 1470000, "type": "quantitative"}, "y": {"datum": -0.698, "type": "quantitative"}}},
            {"data": {"name": "phase2"}, "mark": {"type": "line", "color": "#ee0000", "strokeWidth": 5, "strokeJoin": "round"},
             "encoding": {"x": {"field": "f", "type": "quantitative"}, "y": {"field": "phi", "type": "quantitative"}}}
          ]
        }
      ]
    }
  ]
}
